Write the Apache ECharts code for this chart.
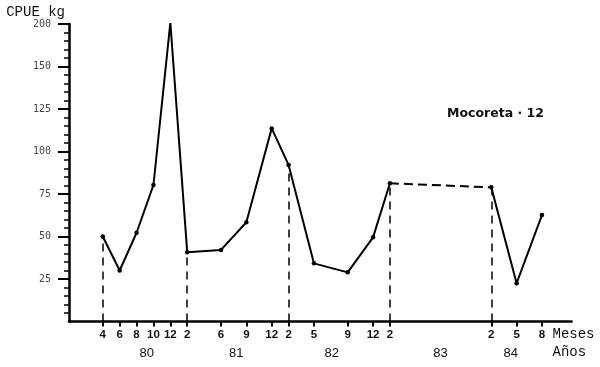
<!DOCTYPE html>
<html>
<head>
<meta charset="utf-8">
<script src="https://cdn.jsdelivr.net/npm/echarts@6/dist/echarts.min.js"></script>
<style>html,body{margin:0;padding:0;background:#fff;}#c{width:600px;height:367px;}</style>
</head>
<body>
<div id="c"></div>
<script>
// month index counted from Dec 1979 (4 = Apr 1980, 14 = Feb 1981, ...)
const months = [4, 6, 8, 10, 12, 14, 18, 21, 24, 26, 29, 33, 36, 38, 50, 53, 56];
const monthLabels = ['4', '6', '8', '10', '12', '2', '6', '9', '12', '2', '5', '9', '12', '2', '2', '5', '8'];
const cpue = [50, 30, 52.2, 80.3, 175.8, 40.7, 42.1, 58.4, 113.6, 92.1, 34.2, 28.9, 49.5, 81.3, 78.9, 22.5, 62.6];
const dropIndices = [0, 5, 9, 13, 14];
const gapStart = 13, gapEnd = 14;
const yearPositions = [9.2, 19.8, 31.1, 44, 52.3];
const yearLabels = ['80', '81', '82', '83', '84'];
const yTickValues = [25, 50, 75, 100, 125, 150, 175];
const yTickLabels = ['25', '50', '75', '100', '125', '150', '200'];
const seriesTitle = 'Mocoreta · 12';

const pts = months.map((m, i) => [m, cpue[i]]);
const solidA = pts.slice(0, gapStart + 1);
const dashedPart = pts.slice(gapStart, gapEnd + 1);
const solidB = pts.slice(gapEnd);

const chart = echarts.init(document.getElementById('c'), null, {renderer: 'canvas'});
const lineBase = {
  type: 'line',
  symbol: 'circle',
  symbolSize: 4.5,
  itemStyle: {color: '#000'},
  lineStyle: {color: '#000', width: 2},
  animation: false,
  silent: true
};
chart.setOption({
  backgroundColor: '#fff',
  animation: false,
  title: {
    text: seriesTitle,
    left: 447, top: 107, padding: 0,
    textStyle: {fontFamily: 'DejaVu Sans', fontSize: 12.5, fontWeight: 'bold', color: '#111'}
  },
  grid: {left: 69, right: 28.5, top: 24, bottom: 45.5, containLabel: false, outerBoundsMode: 'none'},
  xAxis: [{
    type: 'value', min: 0, max: 59.5,
    name: 'Meses', nameLocation: 'end', nameGap: -19,
    nameTextStyle: {fontFamily: 'Liberation Mono', fontSize: 14, color: '#111', align: 'left', verticalAlign: 'top', padding: [6, 0, 0, 0]},
    axisLine: {lineStyle: {color: '#000', width: 2.5}},
    axisTick: {customValues: months, length: 5, lineStyle: {color: '#000', width: 2}},
    axisLabel: {customValues: months, margin: 7, fontFamily: 'Liberation Sans', fontSize: 11.5, fontWeight: 'bold', color: '#111',
      formatter: v => monthLabels[months.indexOf(v)] || ''},
    splitLine: {show: false}
  }, {
    type: 'value', min: 0, max: 59.5, position: 'bottom', offset: 20,
    name: 'Años', nameLocation: 'end', nameGap: -19,
    nameTextStyle: {fontFamily: 'Liberation Mono', fontSize: 14, color: '#111', align: 'left', verticalAlign: 'top', padding: [4, 0, 0, 0]},
    axisLine: {show: false},
    axisTick: {show: false},
    axisLabel: {customValues: yearPositions, margin: 5, fontFamily: 'Liberation Sans', fontSize: 13, color: '#111',
      formatter: v => yearLabels[yearPositions.indexOf(v)] || ''},
    splitLine: {show: false}
  }],
  yAxis: {
    type: 'value', min: 0, max: 175, interval: 25,
    name: 'CPUE kg', nameLocation: 'end', nameGap: 12,
    nameTextStyle: {fontFamily: 'Liberation Mono', fontSize: 14, color: '#111', align: 'right', verticalAlign: 'middle', padding: [0, 4, 0, 0]},
    axisLine: {lineStyle: {color: '#000', width: 2.5}},
    axisTick: {customValues: yTickValues, length: 11, lineStyle: {color: '#000', width: 2}},
    minorTick: {show: true, splitNumber: 5, length: 5, lineStyle: {color: '#000', width: 1.5}},
    axisLabel: {customValues: yTickValues, margin: 18, fontFamily: 'DejaVu Sans Mono', fontSize: 10, color: '#444',
      formatter: v => yTickLabels[yTickValues.indexOf(v)] || ''},
    splitLine: {show: false},
    minorSplitLine: {show: false}
  },
  series: [
    Object.assign({}, lineBase, {
      data: solidA,
      markLine: {
        silent: true, symbol: 'none', animation: false,
        label: {show: false},
        lineStyle: {color: '#000', width: 1.5, type: [8, 6]},
        data: dropIndices.map(i => [{coord: [months[i], 0]}, {coord: [months[i], cpue[i]]}])
      }
    }),
    Object.assign({}, lineBase, {data: dashedPart, symbol: 'none', lineStyle: {color: '#000', width: 2, type: [9, 5]}}),
    Object.assign({}, lineBase, {data: solidB})
  ]
});
</script>
</body>
</html>
